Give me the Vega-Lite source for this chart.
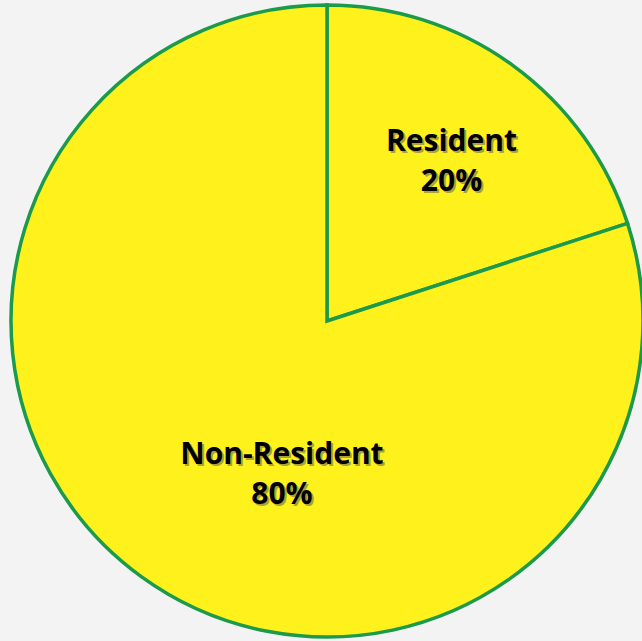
{
  "$schema": "https://vega.github.io/schema/vega-lite/v6.json",
  "autosize": {"type": "fit", "contains": "padding"},
  "width": 642,
  "height": 641,
  "padding": {"left": 12, "right": 0, "top": 1, "bottom": 0},
  "background": "#f3f3f3",
  "config": {"view": {"stroke": null}},
  "data": {"values": [
    {"category": "Resident", "value": 20, "label": "Resident\n20%"},
    {"category": "Non-Resident", "value": 80, "label": "Non-Resident\n80%"}
  ]},
  "encoding": {
    "theta": {"field": "value", "type": "quantitative", "stack": true},
    "order": {"field": "value", "type": "quantitative", "sort": "ascending"}
  },
  "layer": [
    {
      "mark": {"type": "arc", "outerRadius": 316, "fill": "#fff21c", "stroke": "#1a9a4a", "strokeWidth": 3.5, "strokeJoin": "miter"}
    },
    {
      "mark": {"type": "text", "radius": 205, "dx": 6, "dy": -11, "font": "Open Sans", "fontWeight": "bold", "fontSize": 30, "lineBreak": "\n", "lineHeight": 40, "color": "#555555", "opacity": 0.5, "align": "center", "baseline": "middle"},
      "encoding": {"text": {"condition": {"test": "datum.category == 'Resident'", "field": "label"}, "value": ""}}
    },
    {
      "mark": {"type": "text", "radius": 205, "dx": 4, "dy": -13, "font": "Open Sans", "fontWeight": "bold", "fontSize": 30, "lineBreak": "\n", "lineHeight": 40, "color": "#000000", "align": "center", "baseline": "middle"},
      "encoding": {"text": {"condition": {"test": "datum.category == 'Resident'", "field": "label"}, "value": ""}}
    },
    {
      "mark": {"type": "text", "radius": 160, "dx": 51, "dy": 7, "font": "Open Sans", "fontWeight": "bold", "fontSize": 30, "lineBreak": "\n", "lineHeight": 40, "color": "#555555", "opacity": 0.5, "align": "center", "baseline": "middle"},
      "encoding": {"text": {"condition": {"test": "datum.category == 'Non-Resident'", "field": "label"}, "value": ""}}
    },
    {
      "mark": {"type": "text", "radius": 160, "dx": 49, "dy": 5, "font": "Open Sans", "fontWeight": "bold", "fontSize": 30, "lineBreak": "\n", "lineHeight": 40, "color": "#000000", "align": "center", "baseline": "middle"},
      "encoding": {"text": {"condition": {"test": "datum.category == 'Non-Resident'", "field": "label"}, "value": ""}}
    }
  ]
}
